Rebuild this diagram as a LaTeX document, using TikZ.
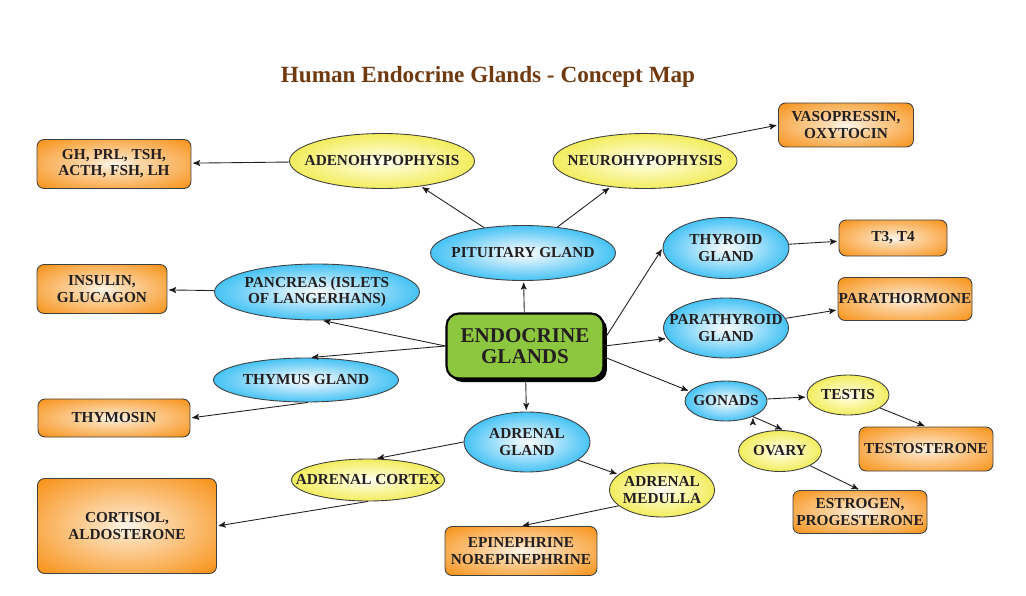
\documentclass[tikz,border=0pt]{standalone}
\usepackage{fontspec}
\setmainfont{Liberation Serif}
\usepackage{tikz}
\usetikzlibrary{arrows, positioning, shapes.geometric, shadows}
\definecolor{eggreen}{RGB}{141,198,63}
\definecolor{titlebrown}{RGB}{112,58,16}
\definecolor{inkdark}{RGB}{35,31,32}
\pgfdeclareradialshading{blueglow}{\pgfpoint{0bp}{0bp}}{rgb(0bp)=(0.97,0.99,1); rgb(8bp)=(0.78,0.92,0.99); rgb(34bp)=(0,0.68,0.94); rgb(80bp)=(0,0.68,0.94)}
\pgfdeclareradialshading{yellowglow}{\pgfpoint{0bp}{0bp}}{rgb(0bp)=(1,1,0.97); rgb(8bp)=(0.99,0.98,0.75); rgb(34bp)=(0.93,0.9,0.16); rgb(80bp)=(0.93,0.9,0.16)}
\pgfdeclareradialshading{orangeglow}{\pgfpoint{0bp}{0bp}}{rgb(0bp)=(1,0.97,0.93); rgb(8bp)=(0.99,0.85,0.68); rgb(34bp)=(0.97,0.58,0.11); rgb(80bp)=(0.97,0.58,0.11)}
\newcommand{\mapfont}{\bfseries\fontsize{8.7}{9.2}\selectfont}

\begin{document}
\begin{tikzpicture}[x=0.02cm, y=-0.02cm, >=stealth', shorten >=1pt, semithin/.style={line width=0.5pt},
    gland/.style={ellipse, draw=black!75, line width=0.5pt, shade, shading=blueglow, inner xsep=-1.2cm, inner ysep=-0.6cm, align=center, text=inkdark, font=\mapfont},
    part/.style={gland, shading=yellowglow},
    hormone/.style={rectangle, rounded corners=4pt, draw=black!75, line width=0.5pt, shade, shading=orangeglow, inner sep=0pt, align=center, text=inkdark, font=\mapfont}]
  \useasboundingbox (0,0) rectangle (1026,595);
  \node[font=\bfseries\fontsize{13.2}{15}\selectfont, text=titlebrown] (title) at (488,77) {Human Endocrine Glands - Concept Map};
  % centre
  \node[rectangle, rounded corners=7pt, draw=black, line width=1.2pt, fill=eggreen, text=inkdark,
        drop shadow={shadow xshift=0.07cm, shadow yshift=-0.07cm, opacity=1, fill=black},
        minimum width=3.14cm, minimum height=1.3cm, inner sep=0pt, align=center,
        font=\bfseries\fontsize{12}{12}\selectfont] (eg) at (525,346) {ENDOCRINE\\GLANDS};
  % glands
  \node[gland, minimum width=3.7cm, minimum height=1.1cm] (pit) at (523,253) {PITUITARY GLAND};
  \node[gland, minimum width=4.1cm, minimum height=1.12cm] (panc) at (317,292) {PANCREAS (ISLETS\\OF LANGERHANS)};
  \node[gland, minimum width=3.7cm, minimum height=0.88cm] (thym) at (306,380) {THYMUS GLAND};
  \node[gland, minimum width=2.52cm, minimum height=1.2cm] (adr) at (527,442) {ADRENAL\\GLAND};
  \node[gland, minimum width=2.52cm, minimum height=1.22cm] (thyr) at (726,248) {THYROID\\GLAND};
  \node[gland, minimum width=2.5cm, minimum height=1.2cm] (parat) at (726,328) {PARATHYROID\\GLAND};
  \node[gland, minimum width=1.64cm, minimum height=0.8cm] (gon) at (726,401) {GONADS};
  % parts
  \node[part, minimum width=3.7cm, minimum height=1.1cm] (adeno) at (382,161) {ADENOHYPOPHYSIS};
  \node[part, minimum width=3.68cm, minimum height=1.1cm] (neuro) at (645,161) {NEUROHYPOPHYSIS};
  \node[part, minimum width=3.06cm, minimum height=0.84cm] (cortex) at (368,480) {ADRENAL CORTEX};
  \node[part, minimum width=2.1cm, minimum height=1.08cm] (medulla) at (662,490) {ADRENAL\\MEDULLA};
  \node[part, minimum width=1.64cm, minimum height=0.8cm] (testis) at (848,395) {TESTIS};
  \node[part, minimum width=1.66cm, minimum height=0.82cm] (ovary) at (780,451) {OVARY};
  % hormones
  \node[hormone, minimum width=2.7cm, minimum height=0.88cm] (vaso) at (846,125) {VASOPRESSIN,\\OXYTOCIN};
  \node[hormone, minimum width=3.08cm, minimum height=0.98cm] (gh) at (114,164) {GH, PRL, TSH,\\ACTH, FSH, LH};
  \node[hormone, minimum width=2.6cm, minimum height=0.98cm] (ins) at (102,289) {INSULIN,\\GLUCAGON};
  \node[hormone, minimum width=3.04cm, minimum height=0.76cm] (thymo) at (114,418) {THYMOSIN};
  \node[hormone, minimum width=3.58cm, minimum height=1.9cm] (cort) at (127,526) {CORTISOL,\\ALDOSTERONE};
  \node[hormone, minimum width=3.04cm, minimum height=0.98cm] (epi) at (521,551) {EPINEPHRINE\\NOREPINEPHRINE};
  \node[hormone, minimum width=2.16cm, minimum height=0.72cm] (t3) at (893,238) {T3, T4};
  \node[hormone, minimum width=2.68cm, minimum height=0.86cm] (parh) at (905,299) {PARATHORMONE};
  \node[hormone, minimum width=2.68cm, minimum height=0.88cm] (testo) at (926,449) {TESTOSTERONE};
  \node[hormone, minimum width=2.68cm, minimum height=0.86cm] (estro) at (860,512) {ESTROGEN,\\PROGESTERONE};
  % links
  \path[->, semithin, draw=inkdark]
    (eg) edge (pit)
    (pit) edge (adeno)
    (pit) edge (neuro)
    (adeno) edge (gh)
    (neuro.20) edge (vaso.west)
    (eg.west) edge (panc.-80)
    (panc) edge (ins)
    (eg.west) edge (thym.80)
    (thym.-85) edge (thymo.east)
    (eg) edge (adr)
    (adr.west) edge (cortex.70)
    (adr) edge (medulla)
    (cortex.south) edge (cort.east)
    (medulla.200) edge (epi.north)
    (eg.5) edge (thyr.west)
    (thyr) edge (t3)
    (eg.east) edge (parat.190)
    (parat) edge (parh)
    (eg.-8) edge (gon.165)
    (gon) edge (testis)
    (gon.-30) edge (ovary.80)
    (testis) edge (testo.north)
    (ovary) edge (estro.north);
\end{tikzpicture}
\end{document}
